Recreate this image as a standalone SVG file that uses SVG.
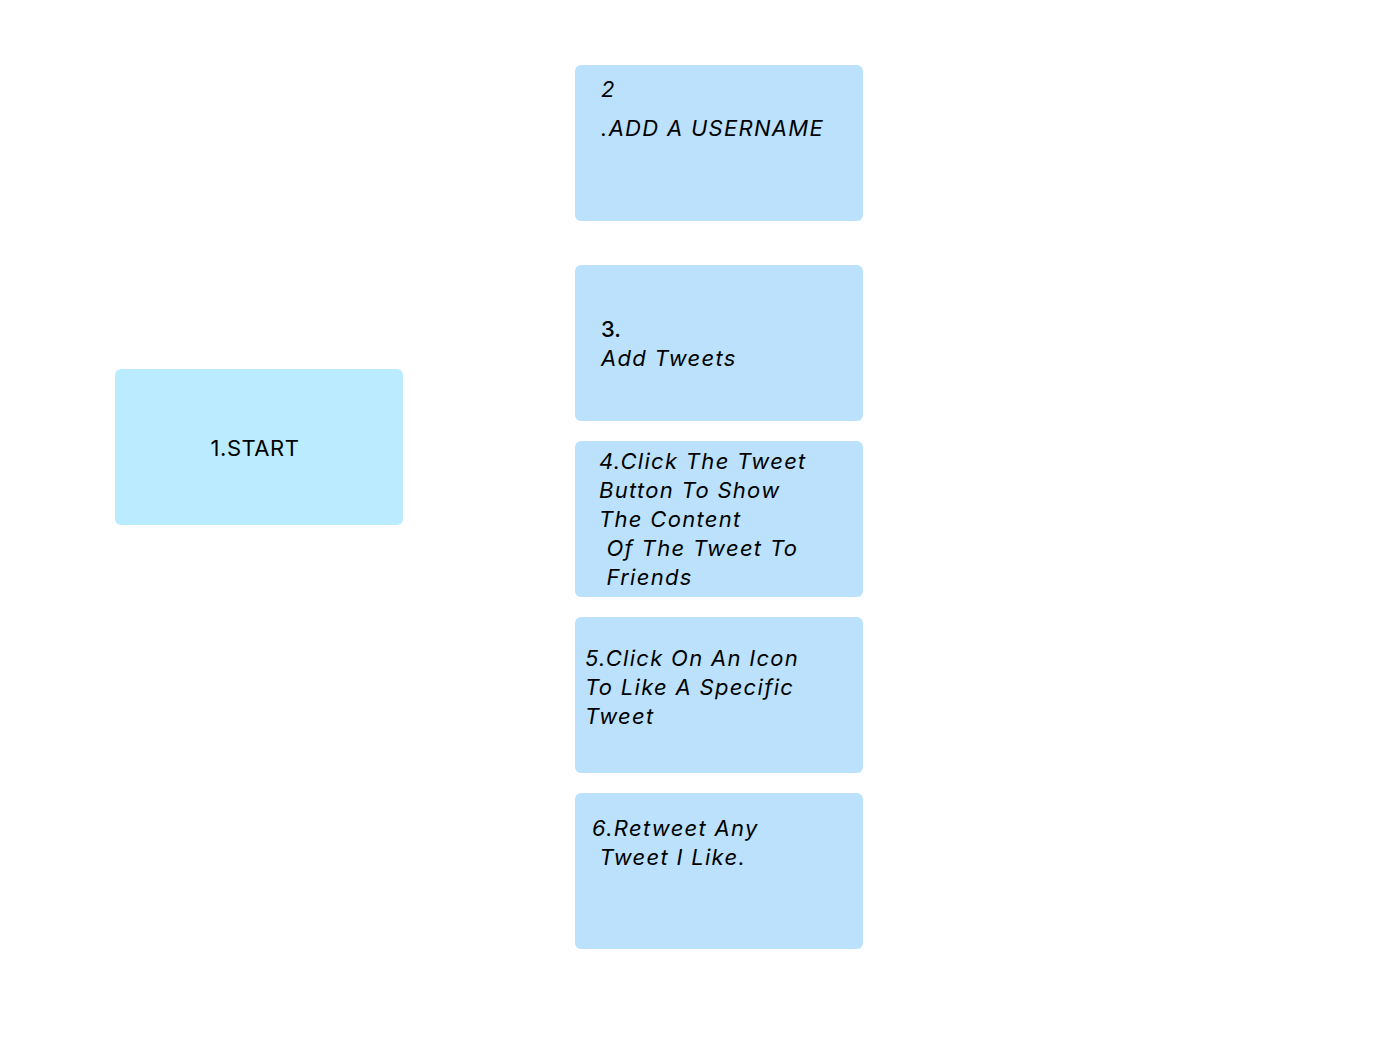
<svg xmlns="http://www.w3.org/2000/svg" width="1384" height="1037" viewBox="0 0 1384 1037">
<style>
.box{fill:#BBE1FD}
.start{fill:#BBEBFF}
text{font-family:Inter,"Open Sans","Liberation Sans",sans-serif;font-size:22px;fill:#000}
.it{font-style:italic;letter-spacing:1.3px}
</style>
<rect width="1384" height="1037" fill="#fff"/>
<g id="connectors"></g>
<g id="n1">
<rect class="start" x="115" y="369" width="288" height="156" rx="6"/>
<text x="255" y="456" text-anchor="middle" letter-spacing="0.5">1.START</text>
</g>
<g id="n2">
<rect class="box" x="575" y="65" width="288" height="156" rx="6"/>
<text class="it" x="601" y="97">2</text>
<text class="it" x="601" y="136" letter-spacing="1">.ADD A USERNAME</text>
</g>
<g id="n3">
<rect class="box" x="575" y="265" width="288" height="156" rx="6"/>
<text x="601" y="337" font-weight="500">3.</text>
<text class="it" x="601" y="366">Add Tweets</text>
</g>
<g id="n4">
<rect class="box" x="575" y="441" width="288" height="156" rx="6"/>
<text class="it" x="599" y="469">4.Click The Tweet</text>
<text class="it" x="599" y="498">Button To Show</text>
<text class="it" x="599" y="527">The Content</text>
<text class="it" x="599" y="556" xml:space="preserve"> Of The Tweet To</text>
<text class="it" x="599" y="585" xml:space="preserve"> Friends</text>
</g>
<g id="n5">
<rect class="box" x="575" y="617" width="288" height="156" rx="6"/>
<text class="it" x="585" y="666">5.Click On An Icon</text>
<text class="it" x="585" y="695">To Like A Specific</text>
<text class="it" x="585" y="724">Tweet</text>
</g>
<g id="n6">
<rect class="box" x="575" y="793" width="288" height="156" rx="6"/>
<text class="it" x="592" y="836">6.Retweet Any</text>
<text class="it" x="592" y="865" xml:space="preserve"> Tweet I Like.</text>
</g>
</svg>
